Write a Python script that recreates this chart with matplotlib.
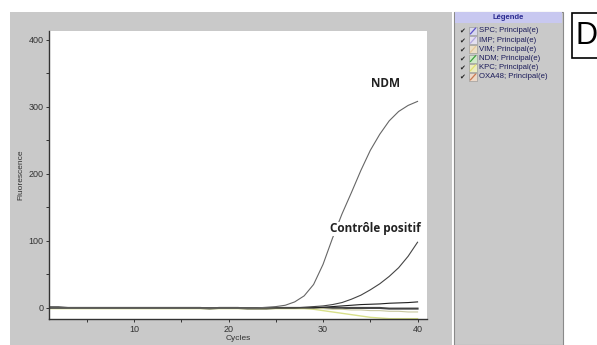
import numpy as np
import matplotlib.pyplot as plt
from matplotlib.patches import Rectangle
from matplotlib.lines import Line2D

# amplification curves (fluorescence per cycle)
cycles = list(range(1, 41))

ndm = [0, 0, 0, 0, 0, 0, 0, 0, 0, 0, 0, 0, 0, 0, 0, 0, 0, 0, 0, 0,
       0, 0, 0, 1, 2, 4, 9, 18, 35, 65, 104, 140, 172, 205, 235, 259, 279, 293, 302, 308]

controle = [0, 0, 0, 0, 0, 0, 0, 0, 0, 0, 0, 0, 0, 0, 0, 0, 0, 0, 0, 0,
            0, 0, 0, 0, 0, 0, 0, 1, 2, 3, 5, 8, 13, 19, 27, 36, 47, 60, 77, 98]

oxa48 = [0, 0, 0, 0, 0, 0, 0, 0, 0, 0, 0, 0, 0, 0, 0, 0, 0, 0, 0, 0,
         0, 0, 0, 0, 0, 0, 0, 0, 0, 1, 2, 3, 4, 5, 5.5, 6, 7, 7.5, 8, 9]

imp = [1, 1, 0, 0, 0, 0, 0, 0, 0, 0, 0, 0, 0, 0, 0, 0, 0, -1, 0, 0,
       0, -1, -1, -1, 0, 0, 0, 0, 0, 0, 0, 0, 0, 0, 0, 0, -1, -1, -1, -1]

kpc = [-1, -1, -1, -1, -1, -1, -1, -1, -1, -1, -1, -1, -1, -1, -1, -1, -1, -1, -1, -1,
       -1, -1, -1, -1, -1, -1, -1, -1, -2, -4, -6, -8, -10, -12, -14, -15, -16, -16, -16, -16]

vim = [0, 0, 0, 0, 0, 0, 0, 0, 0, 0, 0, 0, 0, 0, 0, 0, 0, 0, 0, 0,
       0, 0, 0, 0, 0, 0, 0, 0, -1, -1, -2, -2, -3, -3, -4, -4, -5, -5, -6, -6]

legend_names = ["SPC; Principal(e)", "IMP; Principal(e)", "VIM; Principal(e)",
                "NDM; Principal(e)", "KPC; Principal(e)", "OXA48; Principal(e)"]
legend_colors = ["#5a50c8", "#b4a8e0", "#e8c898", "#3ca03c", "#e0e070", "#c87850"]
legend_fills = ["#d8d8ec", "#e4e0f0", "#ece0c8", "#d0e8c8", "#ecec c0".replace(" ", ""), "#ecd8c8"]

W, H = 597, 345
fig = plt.figure(figsize=(W / 100, H / 100), dpi=100)
fig.patch.set_facecolor("white")

def px(x, y, w, h):
    # pixel box (top-left origin) -> figure fraction
    return [x / W, 1 - (y + h) / H, w / W, h / H]

# grey panels
b = px(10, 12, 442, 333)
fig.patches.append(Rectangle((b[0], b[1]), b[2], b[3], transform=fig.transFigure,
                             facecolor="#c9c9c9", edgecolor="none", zorder=0))
b = px(454, 12, 109, 333)
fig.patches.append(Rectangle((b[0], b[1]), b[2], b[3], transform=fig.transFigure,
                             facecolor="#c9c9c9", edgecolor="#8a8a8a", lw=0.8, zorder=0))
b = px(455, 12, 107, 11)
fig.patches.append(Rectangle((b[0], b[1]), b[2], b[3], transform=fig.transFigure,
                             facecolor="#c8c8f0", edgecolor="none", zorder=1))
fig.text(508 / W, 1 - 17.5 / H, "Légende", fontsize=5.5, color="#2a2a90",
         fontweight="bold", family="Liberation Sans", ha="center", va="center")

# legend rows
for i, (name, col, fill) in enumerate(zip(legend_names, legend_colors, legend_fills)):
    yy = 1 - (31 + i * 9.2) / H
    fig.text(462.5 / W, yy, "✔", fontsize=5, color="#202020", ha="center", va="center")
    b = px(469, 31 + i * 9.2 - 4, 8, 8)
    fig.patches.append(Rectangle((b[0], b[1]), b[2], b[3], transform=fig.transFigure,
                                 facecolor=fill, edgecolor="#909090", lw=0.4, zorder=2))
    fig.lines.append(Line2D([470.5 / W, 475.5 / W], [yy - 2.8 / H, yy + 2.8 / H],
                            transform=fig.transFigure, color=col, lw=0.9, zorder=3))
    fig.text(479 / W, yy, name, fontsize=5.6, color="#1c1c5a", family="Liberation Sans",
             ha="left", va="center")

# "D" box
b = px(572, 13, 30, 45)
fig.patches.append(Rectangle((b[0], b[1]), b[2], b[3], transform=fig.transFigure,
                             facecolor="white", edgecolor="black", lw=1.2, zorder=2))
fig.text(576 / W, 1 - 36 / H, "D", fontsize=22, color="black", family="Liberation Sans",
         ha="left", va="center")

# main plot
ax = fig.add_axes(px(49, 31, 378, 288))
ax.set_zorder(5)
ax.set_facecolor("white")
ax.plot(cycles, imp, color="#444444", lw=1.5)
ax.plot(cycles, kpc, color="#d8e08a", lw=1.0)
ax.plot(cycles, vim, color="#c8c8a0", lw=0.8)
ax.plot(cycles, oxa48, color="#202020", lw=0.8)
ax.plot(cycles, controle, color="#444444", lw=0.8)
ax.plot(cycles, ndm, color="#666666", lw=0.8)

ax.set_xlim(1, 41)
ax.set_ylim(-16.5, 413)
ax.set_xticks([10, 20, 30, 40])
ax.set_xticks([5, 15, 25, 35], minor=True)
ax.set_yticks([0, 100, 200, 300, 400])
ax.set_yticks([50, 150, 250, 350], minor=True)
ax.tick_params(labelsize=6.5, length=2.5, width=0.7, colors="#333333", pad=1.5,
               labelfontfamily="Liberation Sans")
ax.tick_params(which="minor", length=2, width=0.7, colors="#333333")
for s in ["top", "right"]:
    ax.spines[s].set_visible(False)
for s in ["left", "bottom"]:
    ax.spines[s].set_color("#333333")
    ax.spines[s].set_linewidth(1.0)
ax.set_xlabel("Cycles", fontsize=6, color="#333333", labelpad=1, family="Liberation Sans")
ax.set_ylabel("Fluorescence", fontsize=6, color="#333333", labelpad=3, family="Liberation Sans")

ax.text(36.6, 334, "NDM", fontsize=8.5, fontweight="bold", family="Open Sans",
        ha="center", va="center", color="#222222")
ax.text(40.3, 118, "Contrôle positif", fontsize=8.5, fontweight="bold", family="Open Sans",
        ha="right", va="center", color="#222222",
        bbox=dict(facecolor="white", edgecolor="none", pad=0.5))

fig.savefig("out.png", dpi=100)
